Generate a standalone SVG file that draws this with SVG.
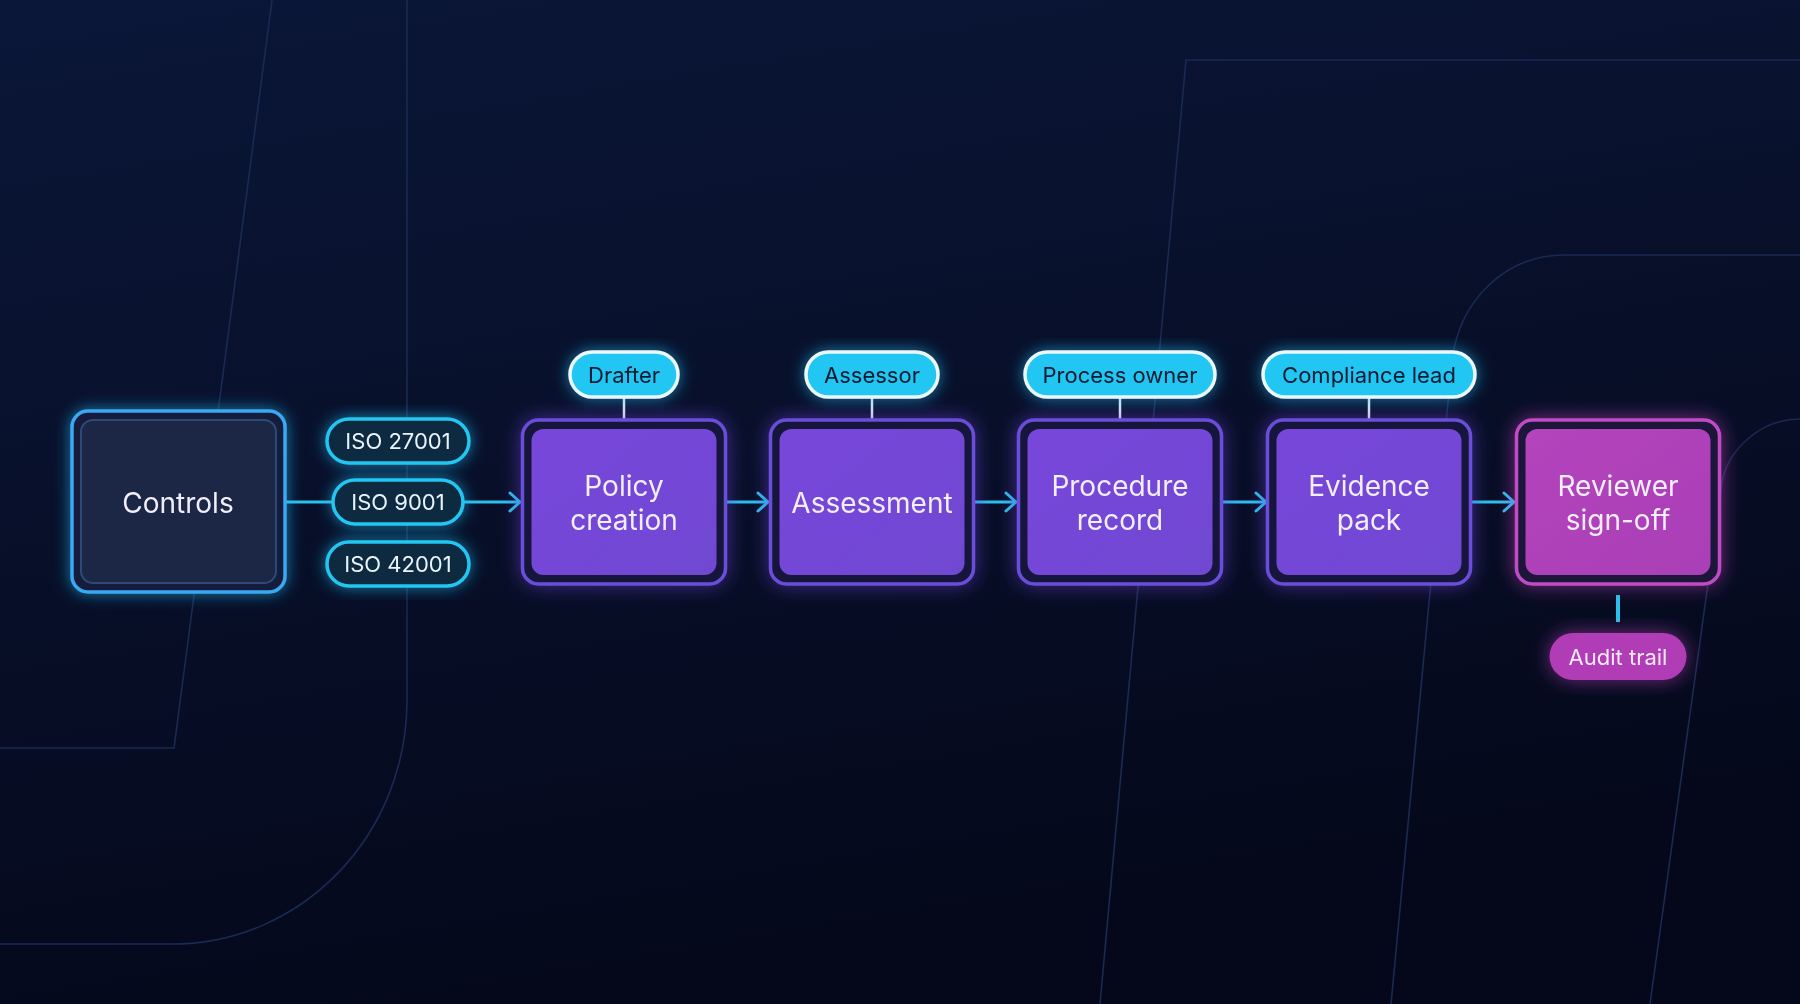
<svg xmlns="http://www.w3.org/2000/svg" width="1800" height="1004" viewBox="0 0 1800 1004">
<defs>
<linearGradient id="bg" x1="0" y1="0" x2="0.3" y2="1">
<stop offset="0" stop-color="#0b1739"/>
<stop offset="1" stop-color="#04081a"/>
</linearGradient>
<linearGradient id="pfill" x1="0" y1="0" x2="1" y2="1">
<stop offset="0" stop-color="#7846da"/>
<stop offset="1" stop-color="#7048d2"/>
</linearGradient>
<linearGradient id="mfill" x1="0" y1="0" x2="1" y2="1">
<stop offset="0" stop-color="#b444bc"/>
<stop offset="1" stop-color="#a93fb6"/>
</linearGradient>
<filter id="glowC" x="-30%" y="-30%" width="160%" height="160%">
<feGaussianBlur in="SourceAlpha" stdDeviation="8" result="b"/>
<feFlood flood-color="#1fb8f0" flood-opacity="0.65"/>
<feComposite in2="b" operator="in" result="g"/>
<feMerge><feMergeNode in="g"/><feMergeNode in="SourceGraphic"/></feMerge>
</filter>
<filter id="glowP" x="-30%" y="-30%" width="160%" height="160%">
<feGaussianBlur in="SourceAlpha" stdDeviation="10" result="b"/>
<feFlood flood-color="#6a3fd8" flood-opacity="0.6"/>
<feComposite in2="b" operator="in" result="g"/>
<feMerge><feMergeNode in="g"/><feMergeNode in="SourceGraphic"/></feMerge>
</filter>
<filter id="glowM" x="-30%" y="-30%" width="160%" height="160%">
<feGaussianBlur in="SourceAlpha" stdDeviation="10" result="b"/>
<feFlood flood-color="#c040c0" flood-opacity="0.6"/>
<feComposite in2="b" operator="in" result="g"/>
<feMerge><feMergeNode in="g"/><feMergeNode in="SourceGraphic"/></feMerge>
</filter>
<marker id="arr" markerWidth="14" markerHeight="22" refX="12" refY="11" orient="auto" markerUnits="userSpaceOnUse">
<path d="M2 2 L12 11 L2 20" fill="none" stroke="#2cc0ee" stroke-width="3" stroke-linecap="round" stroke-linejoin="round"/>
</marker>
</defs>
<style>
.t{font-family:Inter,"Noto Sans","Liberation Sans",sans-serif;text-anchor:middle;dominant-baseline:central}
.big{font-size:28px;fill:#f2eefc}
.iso{font-size:22px;fill:#e8f4fb}
.role{font-size:22px;fill:#0b1a30}
.bgl{fill:none;stroke:#1a2a52;stroke-width:1.6}
.outerP{fill:#17173c;stroke:#6a4ed8;stroke-width:3.5}
.innerP{fill:url(#pfill)}
.outerM{fill:#1e143a;stroke:#c04cc4;stroke-width:3.5}
.innerM{fill:url(#mfill)}
.isoPill{fill:#0e2a40;stroke:#23c6f0;stroke-width:3.5}
.rolePill{fill:#22c6f2;stroke:#eaf8ff;stroke-width:3.5}
.conn{stroke:#2cc0ee;stroke-width:3;fill:none}
.tick{stroke:#e8eef8;stroke-width:2.5}
</style>
<rect width="1800" height="1004" fill="url(#bg)"/>
<g id="background-lines">
<path class="bgl" d="M272 0 L174 748 H0"/>
<path class="bgl" d="M407 0 V700 C407 835 302 944 172 944 H0"/>
<path class="bgl" d="M1800 60 H1186 L1100 1004"/>
<path class="bgl" d="M1800 255 H1565 C1505 255 1460 300 1452 360 L1391 1004"/>
<path class="bgl" d="M1800 419 C1760 419 1728 450 1722 482 L1650 1004"/>
</g>
<g id="connectors">
<line class="conn" x1="285" y1="502" x2="333" y2="502"/>
<line class="conn" x1="463" y1="502" x2="520" y2="502" marker-end="url(#arr)"/>
<line class="conn" x1="725.5" y1="502" x2="768" y2="502" marker-end="url(#arr)"/>
<line class="conn" x1="973.5" y1="502" x2="1016" y2="502" marker-end="url(#arr)"/>
<line class="conn" x1="1221.5" y1="502" x2="1266" y2="502" marker-end="url(#arr)"/>
<line class="conn" x1="1469.5" y1="502" x2="1514" y2="502" marker-end="url(#arr)"/>
<line class="tick" x1="624" y1="397" x2="624" y2="420"/>
<line class="tick" x1="872" y1="397" x2="872" y2="420"/>
<line class="tick" x1="1120" y1="397" x2="1120" y2="420"/>
<line class="tick" x1="1369" y1="397" x2="1369" y2="420"/>
<line x1="1618" y1="595" x2="1618" y2="622" stroke="#2cc0ee" stroke-width="4"/>
</g>
<g id="controls" filter="url(#glowC)">
<rect x="72" y="411" width="213" height="181" rx="16" fill="#141d3a" stroke="#3aa8f4" stroke-width="3.5"/>
<rect x="81" y="420" width="195" height="163" rx="12" fill="#1a2544" stroke="#2e4a78" stroke-width="2"/>
<text class="t big" x="178" y="503">Controls</text>
</g>
<g id="iso-27001" filter="url(#glowC)">
<rect class="isoPill" x="327" y="419" width="142" height="44" rx="22"/>
<text class="t iso" x="398" y="441">ISO 27001</text>
</g>
<g id="iso-9001" filter="url(#glowC)">
<rect class="isoPill" x="333" y="480" width="130" height="44" rx="22"/>
<text class="t iso" x="398" y="502">ISO 9001</text>
</g>
<g id="iso-42001" filter="url(#glowC)">
<rect class="isoPill" x="327" y="542" width="142" height="44" rx="22"/>
<text class="t iso" x="398" y="564">ISO 42001</text>
</g>
<g id="policy-creation" filter="url(#glowP)">
<rect class="outerP" x="522.5" y="420" width="203" height="164" rx="16"/>
<rect class="innerP" x="531.5" y="429" width="185" height="146" rx="12"/>
<text class="t big" x="624" y="486">Policy</text>
<text class="t big" x="624" y="520">creation</text>
</g>
<g id="assessment" filter="url(#glowP)">
<rect class="outerP" x="770.5" y="420" width="203" height="164" rx="16"/>
<rect class="innerP" x="779.5" y="429" width="185" height="146" rx="12"/>
<text class="t big" x="872" y="503">Assessment</text>
</g>
<g id="procedure-record" filter="url(#glowP)">
<rect class="outerP" x="1018.5" y="420" width="203" height="164" rx="16"/>
<rect class="innerP" x="1027.5" y="429" width="185" height="146" rx="12"/>
<text class="t big" x="1120" y="486">Procedure</text>
<text class="t big" x="1120" y="520">record</text>
</g>
<g id="evidence-pack" filter="url(#glowP)">
<rect class="outerP" x="1267.5" y="420" width="203" height="164" rx="16"/>
<rect class="innerP" x="1276.5" y="429" width="185" height="146" rx="12"/>
<text class="t big" x="1369" y="486">Evidence</text>
<text class="t big" x="1369" y="520">pack</text>
</g>
<g id="reviewer-sign-off" filter="url(#glowM)">
<rect class="outerM" x="1516.5" y="420" width="203" height="164" rx="16"/>
<rect class="innerM" x="1525.5" y="429" width="185" height="146" rx="12"/>
<text class="t big" x="1618" y="486">Reviewer</text>
<text class="t big" x="1618" y="520">sign-off</text>
</g>
<g id="drafter" filter="url(#glowC)">
<rect class="rolePill" x="570" y="352" width="108" height="45" rx="22.5"/>
<text class="t role" x="624" y="374.5">Drafter</text>
</g>
<g id="assessor" filter="url(#glowC)">
<rect class="rolePill" x="806" y="352" width="132" height="45" rx="22.5"/>
<text class="t role" x="872" y="374.5">Assessor</text>
</g>
<g id="process-owner" filter="url(#glowC)">
<rect class="rolePill" x="1025" y="352" width="190" height="45" rx="22.5"/>
<text class="t role" x="1120" y="374.5">Process owner</text>
</g>
<g id="compliance-lead" filter="url(#glowC)">
<rect class="rolePill" x="1263" y="352" width="212" height="45" rx="22.5"/>
<text class="t role" x="1369" y="374.5">Compliance lead</text>
</g>
<g id="audit-trail" filter="url(#glowM)">
<rect x="1549.5" y="633" width="137" height="47" rx="23.5" fill="#b03cb6"/>
<text class="t iso" x="1618" y="656.5" style="fill:#f6eaf8">Audit trail</text>
</g>
</svg>
